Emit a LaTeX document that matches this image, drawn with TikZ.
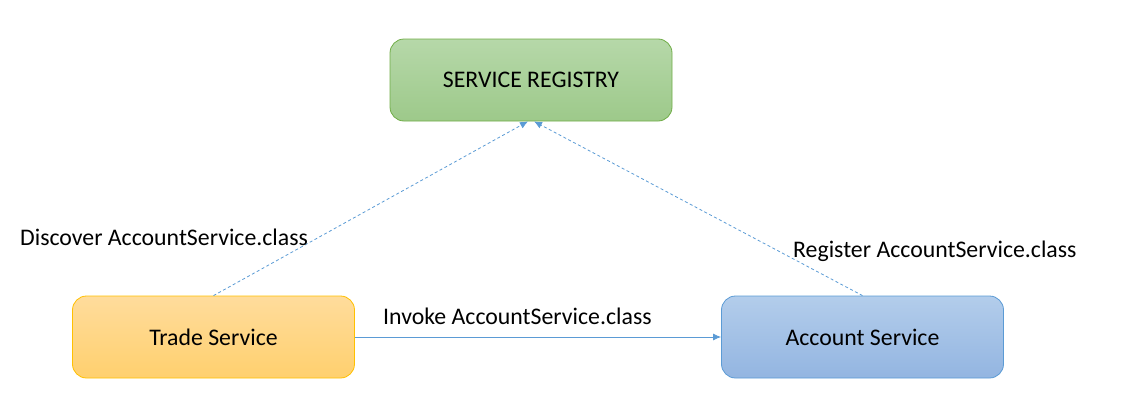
\documentclass[tikz,border=0pt]{standalone}
\usepackage{fontspec}
\setmainfont{Carlito}
\usetikzlibrary{arrows.meta,shapes.misc}
\definecolor{arrowblue}{HTML}{5B9BD5}
\definecolor{greentop}{HTML}{B6D8A9}
\definecolor{greenbot}{HTML}{9DC98A}
\definecolor{greenline}{HTML}{70AD47}
\definecolor{orangetop}{HTML}{FFDC9C}
\definecolor{orangebot}{HTML}{FFD06E}
\definecolor{orangeline}{HTML}{FFC000}
\definecolor{bluetop}{HTML}{B3CDEB}
\definecolor{bluebot}{HTML}{93B5E1}
\definecolor{blueline}{HTML}{5B9BD5}
\tikzset{
  box/.style={rounded corners=14pt, minimum width=282pt, minimum height=82pt, line width=0.8pt,
    font=\fontsize{23.8pt}{28pt}\selectfont, inner sep=0pt},
  greenbox/.style={box, draw=greenline, top color=greentop, bottom color=greenbot},
  orangebox/.style={box, draw=orangeline, top color=orangetop, bottom color=orangebot},
  bluebox/.style={box, draw=blueline, top color=bluetop, bottom color=bluebot},
  conn/.style={draw=arrowblue, line width=0.8pt, -{Latex[length=8pt,width=7pt]}},
  dconn/.style={conn, dash pattern=on 3pt off 2.5pt},
  lbl/.style={font=\fontsize{23.8pt}{28pt}\selectfont, inner sep=0pt, anchor=west}
}
\begin{document}
\begin{tikzpicture}[x=1pt,y=-1pt]
\useasboundingbox (0,0) rectangle (1126,415);
\node[greenbox] (reg) at (531,80) {SERVICE REGISTRY};
\node[orangebox] (trade) at (213.5,337) {Trade Service};
\node[bluebox] (acct) at (862.5,337) {Account Service};
\draw[dconn] (trade.north) -- ([xshift=-3pt]reg.south);
\draw[dconn] (acct.north) -- ([xshift=3pt]reg.south);
\draw[conn] (trade.east) -- (acct.west);
\node[lbl] (ldisc) at (20,237) {Discover AccountService.class};
\node[lbl] (lreg) at (793,251) {Register AccountService.class};
\node[lbl] (linv) at (383,316) {Invoke AccountService.class};
\end{tikzpicture}
\end{document}
